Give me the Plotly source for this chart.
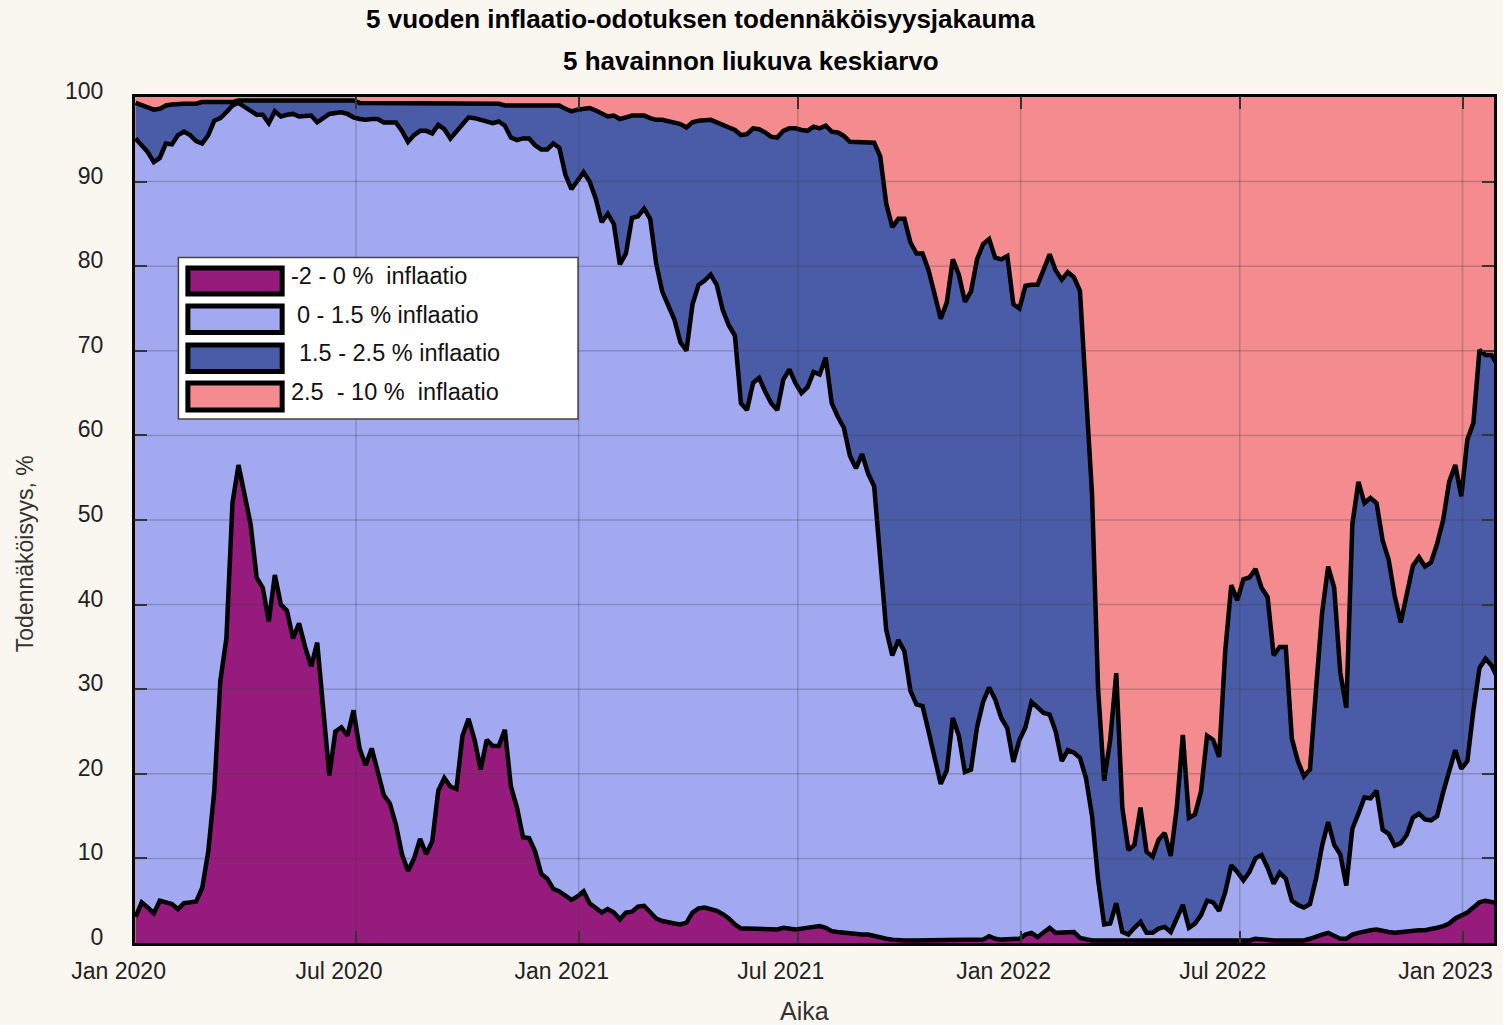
import numpy as np
import pandas as pd
import plotly.graph_objects as go

# ---- data (5-day steps) ----
dates = pd.date_range("2020-01-01", periods=226, freq="5D")

# cumulative probability (%) at the upper edge of each band
top_neg = [
    3.1, 4.8, 4.2, 3.5, 5.0, 4.8, 4.6, 4.0, 4.7, 4.8,
    4.9, 6.5, 10.8, 18.0, 31.0, 36.0, 52.0, 56.5, 53.2, 49.5,
    43.2, 42.0, 38.0, 43.5, 40.0, 39.3, 36.0, 37.8, 35.0, 32.7,
    35.5, 27.0, 19.8, 25.0, 25.5, 24.5, 27.5, 23.0, 21.0, 23.0,
    20.0, 17.5, 16.5, 14.0, 10.5, 8.5, 10.0, 12.3, 10.5, 12.0,
    18.0, 19.5, 18.5, 18.2, 24.5, 26.5, 24.0, 20.5, 24.0, 23.3,
    23.3, 25.2, 18.5, 16.0, 12.5, 12.4, 10.8, 8.2, 7.6, 6.4,
    6.1, 5.6, 5.1, 5.5, 6.1, 4.7, 4.1, 3.6, 4.0, 3.6,
    2.8, 3.6, 3.7, 4.3, 4.4, 3.6, 2.9, 2.6, 2.4, 2.3,
    2.2, 2.4, 3.6, 4.1, 4.2, 4.0, 3.8, 3.4, 2.9, 2.2,
    1.7, 1.7, 1.7, 1.7, 1.7, 1.7, 1.6, 1.8, 1.7, 1.6,
    1.7, 1.8, 1.9, 2.0, 1.8, 1.4, 1.3, 1.2, 1.2, 1.1,
    1.0, 1.0, 0.8, 0.7, 0.5, 0.4, 0.3, 0.3, 0.3, 0.3,
    0.3, 0.3, 0.3, 0.3, 0.3, 0.3, 0.3, 0.3, 0.3, 0.3,
    0.4, 0.8, 0.5, 0.4, 0.4, 0.4, 0.5, 1.0, 1.2, 0.7,
    1.3, 1.8, 1.2, 1.2, 1.3, 1.3, 0.6, 0.4, 0.3, 0.3,
    0.3, 0.3, 0.3, 0.3, 0.3, 0.3, 0.3, 0.3, 0.3, 0.3,
    0.3, 0.3, 0.3, 0.3, 0.3, 0.3, 0.3, 0.3, 0.3, 0.3,
    0.3, 0.3, 0.3, 0.3, 0.3, 0.5, 0.4, 0.3, 0.3, 0.3,
    0.3, 0.3, 0.3, 0.3, 0.5, 0.8, 1.0, 1.2, 0.9, 0.5,
    0.5, 1.0, 1.2, 1.4, 1.5, 1.6, 1.4, 1.3, 1.2, 1.3,
    1.3, 1.4, 1.5, 1.5, 1.6, 1.8, 2.0, 2.3, 2.9, 3.2,
    3.6, 4.2, 4.8, 5.0, 4.9, 4.7,
]
top_low = [
    95.1, 94.3, 93.5, 92.3, 92.8, 94.5, 94.4, 95.5, 95.9, 95.5,
    94.8, 94.5, 95.5, 97.2, 97.5, 98.2, 99.0, 99.3, 98.8, 98.3,
    97.9, 97.9, 96.9, 98.3, 97.7, 97.9, 98.0, 97.7, 97.8, 97.8,
    97.0, 97.5, 98.0, 98.1, 98.2, 98.0, 97.6, 97.4, 97.3, 97.4,
    97.4, 97.0, 97.0, 97.0, 96.0, 94.7, 95.5, 96.0, 96.0, 95.7,
    96.7, 96.2, 95.1, 96.0, 96.8, 97.6, 97.5, 97.3, 97.1, 96.9,
    97.1, 96.6, 95.2, 94.9, 95.1, 95.1, 94.3, 93.8, 93.8, 94.5,
    94.0, 90.8, 89.1, 90.1, 91.1, 90.0, 88.0, 85.2, 86.2, 85.0,
    80.2, 81.5, 85.7, 85.9, 86.8, 85.6, 80.3, 77.0, 75.2, 73.7,
    71.0, 70.0, 75.5, 77.8, 78.3, 79.0, 77.8, 74.8, 73.0, 71.8,
    63.8, 63.0, 66.2, 66.8, 65.2, 63.8, 63.0, 66.6, 67.8, 66.2,
    65.0, 65.7, 67.5, 67.2, 69.2, 63.8, 62.2, 60.9, 57.6, 56.1,
    57.8, 55.5, 54.0, 46.0, 37.0, 34.0, 35.8, 34.5, 29.8, 28.2,
    28.0, 25.0, 21.8, 18.8, 20.4, 26.6, 24.5, 20.2, 20.5, 25.5,
    28.5, 30.2, 28.8, 26.6, 25.4, 21.4, 24.0, 25.5, 28.5, 27.8,
    27.2, 27.0, 25.0, 21.5, 22.8, 22.5, 21.9, 19.5, 15.0, 7.5,
    2.2, 2.3, 4.7, 1.3, 1.0, 1.8, 2.5, 1.2, 1.2, 1.7,
    1.9, 1.3, 3.0, 4.5, 1.8, 2.3, 3.3, 5.0, 4.8, 3.8,
    6.0, 9.2, 8.4, 7.4, 8.4, 10.0, 10.4, 8.9, 7.0, 8.3,
    7.6, 5.0, 4.5, 4.2, 4.6, 7.6, 11.5, 14.3, 11.6, 10.5,
    6.8, 13.5, 15.3, 17.2, 17.1, 18.0, 13.4, 12.9, 11.5, 11.8,
    12.8, 14.8, 15.3, 14.6, 14.5, 15.0, 17.8, 20.5, 22.8, 20.6,
    21.5, 27.5, 32.5, 33.6, 32.8, 31.3,
]
top_mid = [
    99.3, 99.0, 98.7, 98.5, 98.6, 99.0, 99.1, 99.2, 99.2, 99.2,
    99.2, 99.4, 99.4, 99.4, 99.4, 99.4, 99.4, 99.6, 99.6, 99.6,
    99.6, 99.6, 99.6, 99.6, 99.6, 99.6, 99.6, 99.6, 99.6, 99.6,
    99.6, 99.6, 99.6, 99.6, 99.6, 99.6, 99.6, 99.3, 99.3, 99.3,
    99.3, 99.3, 99.3, 99.3, 99.3, 99.3, 99.3, 99.3, 99.3, 99.3,
    99.3, 99.3, 99.3, 99.3, 99.3, 99.2, 99.2, 99.2, 99.2, 99.2,
    99.2, 99.0, 99.0, 99.0, 99.0, 99.0, 98.9, 98.9, 99.0, 99.0,
    99.0, 98.6, 98.3, 98.5, 98.6, 98.7, 98.4, 98.0, 97.7, 97.8,
    97.4, 97.6, 97.8, 97.8, 97.8, 97.5, 97.3, 97.3, 97.1, 97.0,
    96.8, 96.4, 97.0, 97.2, 97.3, 97.3, 97.0, 96.7, 96.3, 96.1,
    95.5, 95.6, 96.3, 96.2, 95.8, 95.3, 95.2, 96.0, 96.3, 96.3,
    96.1, 96.0, 96.5, 96.3, 96.6, 95.9, 95.8, 95.4, 94.7, 94.7,
    94.7, 94.7, 94.6, 93.0, 87.4, 84.6, 85.6, 85.6, 82.8, 81.5,
    81.5, 79.5, 76.5, 73.8, 75.7, 80.8, 79.0, 75.8, 77.0, 80.8,
    82.6, 83.2, 81.0, 80.8, 81.2, 75.5, 75.0, 77.7, 77.8, 77.8,
    79.6, 81.4, 79.5, 78.4, 79.3, 78.7, 77.1, 66.0, 53.0, 30.0,
    19.2, 24.0, 31.9, 16.0, 11.0, 11.6, 16.0, 10.8, 10.2, 12.2,
    13.0, 10.3, 16.0, 24.6, 14.8, 15.2, 17.9, 24.5, 24.0, 22.0,
    34.5, 42.3, 40.5, 43.0, 43.2, 44.2, 42.0, 40.9, 34.0, 35.0,
    35.0, 24.2, 21.5, 19.7, 20.5, 30.0, 39.0, 44.5, 42.0, 32.0,
    27.8, 49.5, 54.5, 52.0, 52.6, 52.0, 47.6, 45.3, 41.0, 37.9,
    41.0, 44.6, 45.6, 44.5, 45.0, 47.2, 50.0, 54.5, 56.5, 52.8,
    59.5, 61.5, 70.1, 69.5, 69.5, 68.3,
]

band_names = ["-2 - 0 %  inflaatio", "0 - 1.5 % inflaatio",
              "1.5 - 2.5 % inflaatio", "2.5  - 10 %  inflaatio"]
band_colors = ["#961B7C", "#A2A9F1", "#4A5CA8", "#F48B8E"]

x_tickvals = ["2020-01-01", "2020-07-01", "2021-01-01", "2021-07-01",
              "2022-01-01", "2022-07-01", "2023-01-01"]
x_ticktext = ["Jan 2020", "Jul 2020", "Jan 2021", "Jul 2021",
              "Jan 2022", "Jul 2022", "Jan 2023"]
y_tickvals = [0, 10, 20, 30, 40, 50, 60, 70, 80, 90, 100]

# ---- band values derived from the cumulative read-offs ----
c0 = np.array(top_neg)
c1 = np.array(top_low)
c2 = np.array(top_mid)
bands = [np.round(c0, 2), np.round(c1 - c0, 2), np.round(c2 - c1, 2), np.round(100 - c2, 2)]

fig = go.Figure()
for i, (vals, name, col) in enumerate(zip(bands, band_names, band_colors)):
    fig.add_trace(go.Scatter(
        x=dates, y=vals, name=name, stackgroup="one", mode="lines",
        line=dict(color="black", width=4.5 if i < 3 else 0),
        fillcolor=col, showlegend=False,
    ))

# ---- layout helpers (pixel -> paper) ----
L, R, T, B = 135, 1497, 97, 943
W, H = R - L, B - T


def px(x):
    return (x - L) / W


def py(y):
    return (B - y) / H


FONT = "Liberation Sans, Arial, sans-serif"
shapes = []
grid_col = "rgba(60,60,60,0.28)"
for v in x_tickvals[1:]:
    shapes.append(dict(type="line", xref="x", yref="paper", x0=v, x1=v, y0=0, y1=1,
                       line=dict(color=grid_col, width=1.5), layer="above"))
for v in y_tickvals[1:-1]:
    shapes.append(dict(type="line", xref="paper", yref="y", x0=0, x1=1, y0=v, y1=v,
                       line=dict(color=grid_col, width=1.5), layer="above"))

# manual legend
shapes.append(dict(type="rect", xref="paper", yref="paper",
                   x0=px(178.5), x1=px(579), y0=py(419), y1=py(257.5),
                   fillcolor="white", line=dict(color="#444", width=1.5), layer="above"))
rows = [(268, 294), (306, 332.5), (345, 371.5), (383, 410)]
for (ya, yb), col in zip(rows, band_colors):
    shapes.append(dict(type="rect", xref="paper", yref="paper",
                       x0=px(188), x1=px(282.5), y0=py(yb), y1=py(ya),
                       fillcolor=col, line=dict(color="black", width=5), layer="above"))

annotations = []
leg_text_pos = [(289, 276), (295.5, 314.5), (297, 353), (289, 392)]
for (tx, ty), name in zip(leg_text_pos, band_names):
    annotations.append(dict(text=name.replace("  ", "\u00a0\u00a0"), xref="paper", yref="paper",
                            x=px(tx), y=py(ty), xanchor="left", yanchor="middle",
                            showarrow=False, font=dict(family=FONT, size=23.5, color="#111")))

annotations.append(dict(text="<b>5 vuoden inflaatio-odotuksen todennäköisyysjakauma</b>",
                        xref="paper", yref="paper", x=px(702), y=py(19),
                        xanchor="center", yanchor="middle", showarrow=False,
                        font=dict(family=FONT, size=26, color="black")))
annotations.append(dict(text="<b>5 havainnon liukuva keskiarvo</b>",
                        xref="paper", yref="paper", x=px(752), y=py(61),
                        xanchor="center", yanchor="middle", showarrow=False,
                        font=dict(family=FONT, size=26, color="black")))
annotations.append(dict(text="Todennäköisyys, %", xref="paper", yref="paper",
                        x=px(25), y=py(554), xanchor="center", yanchor="middle",
                        textangle=-90, showarrow=False,
                        font=dict(family=FONT, size=23, color="#333")))
annotations.append(dict(text="Aika", xref="paper", yref="paper",
                        x=px(806), y=py(1011), xanchor="center", yanchor="middle",
                        showarrow=False, font=dict(family=FONT, size=25, color="#333")))

fig.update_layout(
    width=1503, height=1025,
    margin=dict(l=L, r=1503 - R, t=T, b=1025 - B, pad=0),
    paper_bgcolor="#FAF6F0", plot_bgcolor="#F48B8E",
    font=dict(family=FONT, size=23, color="#222"),
    shapes=shapes, annotations=annotations,
    showlegend=False,
    xaxis=dict(type="date", range=["2019-12-31 12:00", "2023-01-27"],
               tickvals=x_tickvals, ticktext=x_ticktext,
               ticks="inside", ticklen=12, tickwidth=2, tickcolor="#333",
               showline=True, linewidth=3, linecolor="black", mirror="ticks",
               showgrid=False, zeroline=False,
               tickfont=dict(family=FONT, size=23, color="#222"),
               ticklabelshift=-17, ticklabelstandoff=5),
    yaxis=dict(range=[0, 100], tickvals=y_tickvals,
               ticks="inside", ticklen=12, tickwidth=2, tickcolor="#333",
               showline=True, linewidth=3, linecolor="black", mirror="ticks",
               showgrid=False, zeroline=False,
               tickfont=dict(family=FONT, size=23, color="#222"),
               ticklabelshift=-6, ticklabelstandoff=24),
)

fig.write_html(
    "out.html",
    config={"displayModeBar": False},
    post_script=("document.body.style.margin='0';"
                 "document.body.style.background='#FAF6F0';"
                 "document.documentElement.style.overflow='hidden';"),
)
